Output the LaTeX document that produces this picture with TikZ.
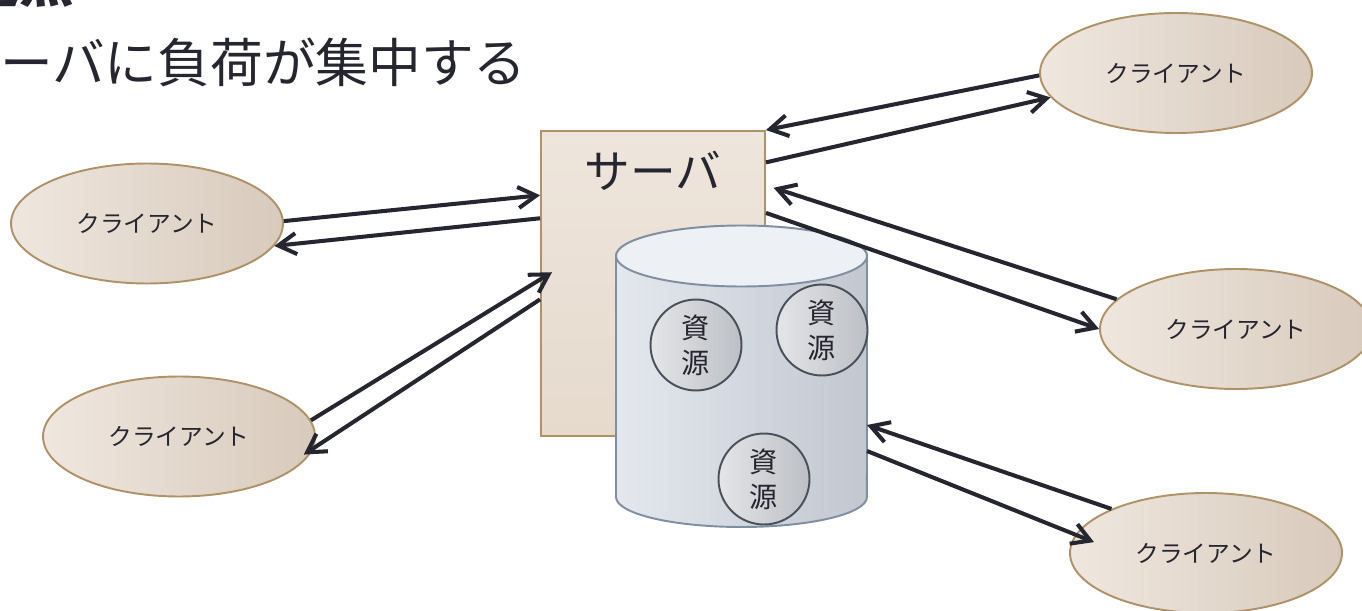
\documentclass[tikz,border=0pt]{standalone}
\usepackage{fontspec}
\setmainfont{Noto Sans CJK JP}
\usepackage{tikz}
\usetikzlibrary{arrows.meta,shapes.geometric}

\definecolor{ink}{RGB}{38,38,48}
\definecolor{tanline}{RGB}{176,146,104}
\definecolor{beigeL}{RGB}{239,231,223}
\definecolor{beigeR}{RGB}{216,202,188}
\definecolor{srvtop}{RGB}{238,229,220}
\definecolor{srvbot}{RGB}{230,218,205}
\definecolor{dbline}{RGB}{128,142,162}
\definecolor{dbL}{RGB}{228,232,238}
\definecolor{dbR}{RGB}{194,199,208}
\definecolor{dbtop}{RGB}{237,240,244}
\definecolor{resL}{RGB}{228,229,231}
\definecolor{resR}{RGB}{188,191,196}
\definecolor{resline}{RGB}{72,80,90}

\tikzset{
  client/.style={ellipse, draw=tanline, line width=1.1pt, left color=beigeL, right color=beigeR,
    minimum width=5.44cm, minimum height=2.4cm, inner sep=0pt, text=ink, font=\fontsize{13.5}{15}\selectfont},
  res/.style={circle, draw=resline, line width=1.1pt, left color=resL, right color=resR,
    minimum size=1.82cm, inner sep=0pt, align=center, text=ink, font=\fontsize{16}{19.8}\selectfont},
  flow/.style={ink, line width=2.3pt, -{Straight Barb[length=0.36cm, width=0.42cm]}},
}

\begin{document}
\begin{tikzpicture}[x=0.02cm, y=-0.02cm]
    \useasboundingbox (0,0) rectangle (1362,611);
    \clip (0,0) rectangle (1362,611);

    % heading
    \node[anchor=base west, inner sep=0pt, text=ink, font=\fontsize{31}{36}\selectfont\bfseries] (head) at (-90,3) {問題点};
    \node[anchor=west, inner sep=0pt, text=ink, font=\fontsize{30}{34}\selectfont] (point) at (-53,62) {サーバに負荷が集中する};

    % server
    \node[rectangle, draw=tanline, line width=1.1pt, top color=srvtop, bottom color=srvbot,
          minimum width=4.48cm, minimum height=6.1cm, inner sep=0pt] (srv) at (653,283.5) {};
    \node[text=ink, inner sep=0pt, font=\fontsize{26}{30}\selectfont] (srvname) at ([yshift=-0.82cm]srv.north) {サーバ};

    % storage
    \shade[left color=dbL, right color=dbR, draw=dbline, line width=1.1pt]
        (616,256) -- (616,497) arc[start angle=180, end angle=360, x radius=2.51cm, y radius=0.6cm]
        -- (867,256) arc[start angle=0, end angle=180, x radius=2.51cm, y radius=0.6cm] -- cycle;
    \filldraw[fill=dbtop, draw=dbline, line width=1.1pt] (741.5,256) ellipse[x radius=2.51cm, y radius=0.61cm];
    \coordinate (dbA) at (867,425);
    \coordinate (dbB) at (867,451);

    \node[res] (r1) at (696,345) {資\\源};
    \node[res] (r2) at (822,330) {資\\源};
    \node[res] (r3) at (764,479) {資\\源};

    % clients
    \node[client] (c1) at (1176,73) {クライアント};
    \node[client] (c2) at (147,223.5) {クライアント};
    \node[client] (c3) at (179,436.5) {クライアント};
    \node[client] (c4) at (1236,329) {クライアント};
    \node[client] (c5) at (1206,553) {クライアント};

    % requests and replies
    \draw[flow] (c1.181) -- (srv.north east);
    \draw[flow] (srv.47) -- (c1.191);
    \draw[flow] (c2.1) -- (srv.142);
    \draw[flow] (srv.150) -- (c2.-10);
    \draw[flow, shorten >=-0.28cm] (c3.7) -- (srv.178);
    \draw[flow, shorten >=-0.23cm] (srv.188) -- (c3.-5);
    \draw[flow, shorten >=0.16cm] (c4.166) -- (srv.41);
    \draw[flow] (srv.32) -- (c4.west);
    \draw[flow] (c5.155) -- (dbA);
    \draw[flow, shorten >=-0.4cm] (dbB) -- (c5.172);

\end{tikzpicture}
\end{document}
